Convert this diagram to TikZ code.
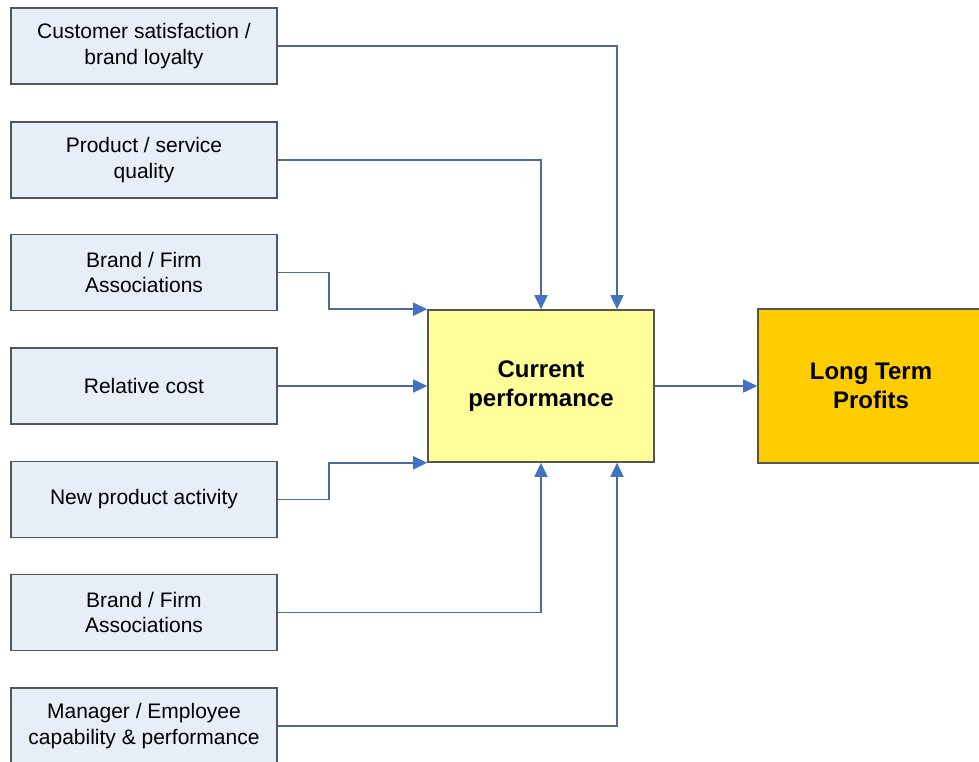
\documentclass[tikz,border=0pt]{standalone}
\usepackage{fontspec}
\setmainfont{Liberation Sans}
\usetikzlibrary{arrows.meta,positioning}

\definecolor{boxfill}{RGB}{232,238,247}
\definecolor{boxline}{RGB}{85,85,85}
\definecolor{linkline}{RGB}{80,105,150}
\definecolor{tipblue}{RGB}{66,114,196}
\definecolor{perffill}{RGB}{255,255,153}
\definecolor{profitfill}{RGB}{255,204,0}

\tikzset{
  factor/.style={draw=boxline, line width=1.6pt, fill=boxfill, minimum width=266pt, minimum height=76pt,
    align=center, inner sep=2pt, font=\fontsize{21}{25.5}\selectfont},
  bigbox/.style={draw=boxline, line width=1.6pt, minimum width=226pt, minimum height=152pt,
    align=center, font=\fontsize{24}{28.5}\selectfont\bfseries},
  link/.style={draw=linkline, line width=1.7pt, -{Triangle[length=14pt,width=13pt,color=tipblue]}},
}

\begin{document}
\begin{tikzpicture}[x=1pt,y=1pt]
  \useasboundingbox (0,0) rectangle (979,-762);

  % factors on the left
  \node [factor] (satisf) at (144,-46) {Customer satisfaction /\\brand loyalty};
  \node [factor] (quality) at (144,-160) {Product / service\\quality};
  \node [factor] (assoc) at (144,-272.5) {Brand / Firm\\Associations};
  \node [factor] (cost) at (144,-386) {Relative cost};
  \node [factor] (newprod) at (144,-499.5) {New product activity};
  \node [factor] (assocb) at (144,-612.5) {Brand / Firm\\Associations};
  \node [factor] (manager) at (144,-726) {Manager / Employee\\capability \& performance};

  % the two big boxes
  \node [bigbox, fill=perffill] (perf) at (541,-386) {Current\\performance};
  \node [bigbox, fill=profitfill, minimum height=154pt] (profit) at (871,-386) {Long Term\\Profits};

  % links into current performance
  \draw [link] (satisf.east) -| ([xshift=76pt]perf.north);
  \draw [link] (quality.east) -| (perf.north);
  \draw [link] (assoc.east) -| ([xshift=-98pt]perf.north west) -- (perf.north west);
  \draw [link] (cost.east) -- (perf.west);
  \draw [link] (newprod.east) -| ([xshift=-98pt]perf.south west) -- (perf.south west);
  \draw [link] (assocb.east) -| (perf.south);
  \draw [link] (manager.east) -| ([xshift=76pt]perf.south);

  \draw [link] (perf.east) -- (profit.west);
\end{tikzpicture}
\end{document}
